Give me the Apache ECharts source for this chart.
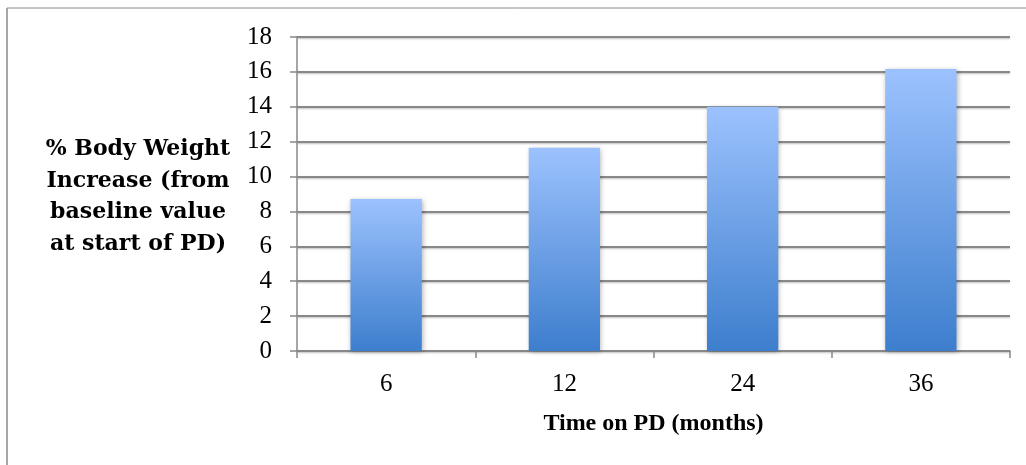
<!DOCTYPE html>
<html>
<head>
<meta charset="utf-8">
<script src="https://cdn.jsdelivr.net/npm/echarts@6/dist/echarts.min.js"></script>
<style>
html,body{margin:0;padding:0;background:#fff;}
#chart{width:1026px;height:465px;}
</style>
</head>
<body>
<div id="chart"></div>
<script>
var categories = ['6', '12', '24', '36'];
var values = [8.72, 11.65, 14.0, 16.17];
var yTicks = [0, 2, 4, 6, 8, 10, 12, 14, 16, 18];
var yTitleLines = ['% Body Weight', 'Increase (from', 'baseline value', 'at start of PD)'];
var xTitle = 'Time on PD (months)';

var chart = echarts.init(document.getElementById('chart'));
var serif = '"Liberation Serif", serif';
var boldSerif = '"DejaVu Serif", serif';
chart.setOption({
  animation: false,
  grid: {left: 297, right: 16, top: 37, bottom: 114},
  graphic: [
    {type: 'line', shape: {x1: 7, y1: 8, x2: 1026, y2: 8}, style: {stroke: '#8a8a8a', lineWidth: 1}},
    {type: 'line', shape: {x1: 7, y1: 8, x2: 7, y2: 465}, style: {stroke: '#8a8a8a', lineWidth: 1.5}},
    {
      type: 'text', x: 138, y: 197,
      style: {
        text: yTitleLines.join('\n'), textAlign: 'center', textVerticalAlign: 'middle',
        fontFamily: boldSerif, fontWeight: 'bold', fontSize: 22, fill: '#000', lineHeight: 31.5
      }
    }
  ],
  xAxis: {
    type: 'category', data: categories,
    name: xTitle, nameLocation: 'middle', nameGap: 61,
    nameTextStyle: {fontFamily: serif, fontWeight: 'bold', fontSize: 24, color: '#000'},
    axisLine: {lineStyle: {color: '#888', width: 1.5}},
    axisTick: {show: true, length: 7, lineStyle: {color: '#888', width: 1.5}},
    axisLabel: {fontFamily: serif, fontSize: 25, color: '#000', margin: 21}
  },
  yAxis: {
    type: 'value', min: 0, max: 18, interval: 2,
    axisLine: {show: true, lineStyle: {color: '#888', width: 1.5}},
    axisTick: {show: true, length: 7, lineStyle: {color: '#888', width: 1.5}},
    axisLabel: {fontFamily: serif, fontSize: 25, color: '#000', margin: 25},
    splitLine: {lineStyle: {color: '#888', width: 2, shadowColor: 'rgba(0,0,0,0.25)', shadowBlur: 2, shadowOffsetY: 1}}
  },
  series: [{
    type: 'bar', data: values, barWidth: '40%',
    itemStyle: {
      color: new echarts.graphic.LinearGradient(0, 0, 0, 1, [
        {offset: 0, color: '#9cc2fe'},
        {offset: 1, color: '#3d7ecd'}
      ]),
      shadowColor: 'rgba(0,0,0,0.3)', shadowBlur: 5, shadowOffsetX: 1, shadowOffsetY: 1
    }
  }]
});
</script>
</body>
</html>
